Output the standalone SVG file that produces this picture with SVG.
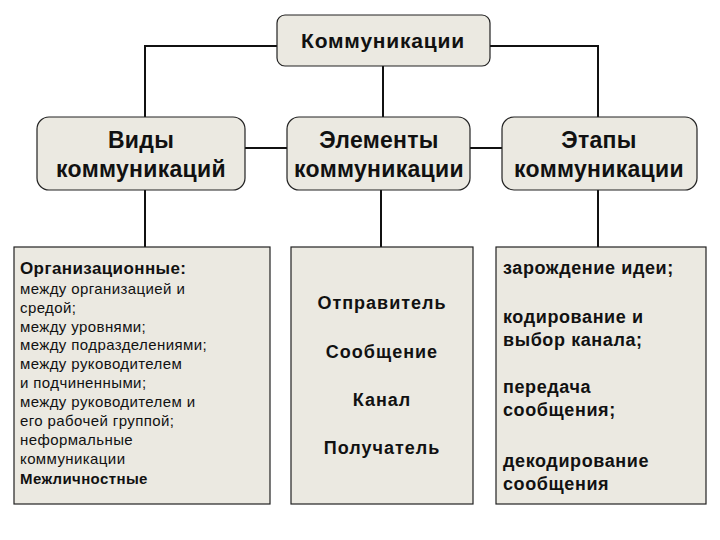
<svg xmlns="http://www.w3.org/2000/svg" width="720" height="540" viewBox="0 0 720 540">
<style>
.b{fill:#ebe9e1;stroke:#222;stroke-width:1.2}
.c{fill:none;stroke:#111;stroke-width:2}
text{font-family:"Liberation Sans",Arial,sans-serif;fill:#111}
.h{font-size:23px;font-weight:bold;text-anchor:middle;letter-spacing:0.3px}
.s{font-size:15px;letter-spacing:0.4px}
.m{font-size:18px;font-weight:bold;letter-spacing:0.6px}
.e{font-size:18px;font-weight:bold;letter-spacing:1px;text-anchor:middle}
</style>
<rect width="720" height="540" fill="#fff"/>
<g id="connectors">
<path class="c" d="M277 46H145V118M490 46H598V118M383 66V118M245 148H287M470 148H502M145 190V247M381 190V247M598 190V247"/>
</g>
<g id="n0"><rect class="b" x="277" y="15" width="213" height="51" rx="8"/><text x="383" y="48" style="font-size:21px;font-weight:bold;text-anchor:middle;letter-spacing:0.8px">Коммуникации</text></g>
<g id="n1"><rect class="b" x="37" y="117" width="208" height="73" rx="12"/><text class="h" x="141" y="148">Виды</text><text class="h" x="141" y="177">коммуникаций</text></g>
<g id="n2"><rect class="b" x="287" y="117" width="183" height="73" rx="12"/><text class="h" x="379" y="148">Элементы</text><text class="h" x="379" y="177">коммуникации</text></g>
<g id="n3"><rect class="b" x="502" y="117" width="195" height="73" rx="12"/><text class="h" x="599" y="148">Этапы</text><text class="h" x="599" y="177">коммуникации</text></g>
<g id="n4"><rect class="b" x="14" y="247" width="256" height="257"/>
<text x="20" y="274" style="font-size:17px;font-weight:bold;letter-spacing:0.4px">Организационные:</text>
<text class="s" x="20" y="294">между организацией и</text>
<text class="s" x="20" y="313">средой;</text>
<text class="s" x="20" y="332">между уровнями;</text>
<text class="s" x="20" y="350">между подразделениями;</text>
<text class="s" x="20" y="369">между руководителем</text>
<text class="s" x="20" y="388">и подчиненными;</text>
<text class="s" x="20" y="407">между руководителем и</text>
<text class="s" x="20" y="426">его рабочей группой;</text>
<text class="s" x="20" y="445">неформальные</text>
<text class="s" x="20" y="464">коммуникации</text>
<text class="s" x="20" y="484" font-weight="bold">Межличностные</text></g>
<g id="n5"><rect class="b" x="291" y="247" width="182" height="257"/>
<text class="e" x="382" y="309">Отправитель</text>
<text class="e" x="382" y="358">Сообщение</text>
<text class="e" x="382" y="406">Канал</text>
<text class="e" x="382" y="454">Получатель</text></g>
<g id="n6"><rect class="b" x="496" y="247" width="210" height="257"/>
<text class="m" x="503" y="274">зарождение идеи;</text>
<text class="m" x="503" y="323">кодирование и</text>
<text class="m" x="503" y="346">выбор канала;</text>
<text class="m" x="503" y="393">передача</text>
<text class="m" x="503" y="416">сообщения;</text>
<text class="m" x="503" y="467">декодирование</text>
<text class="m" x="503" y="490">сообщения</text></g>
</svg>
